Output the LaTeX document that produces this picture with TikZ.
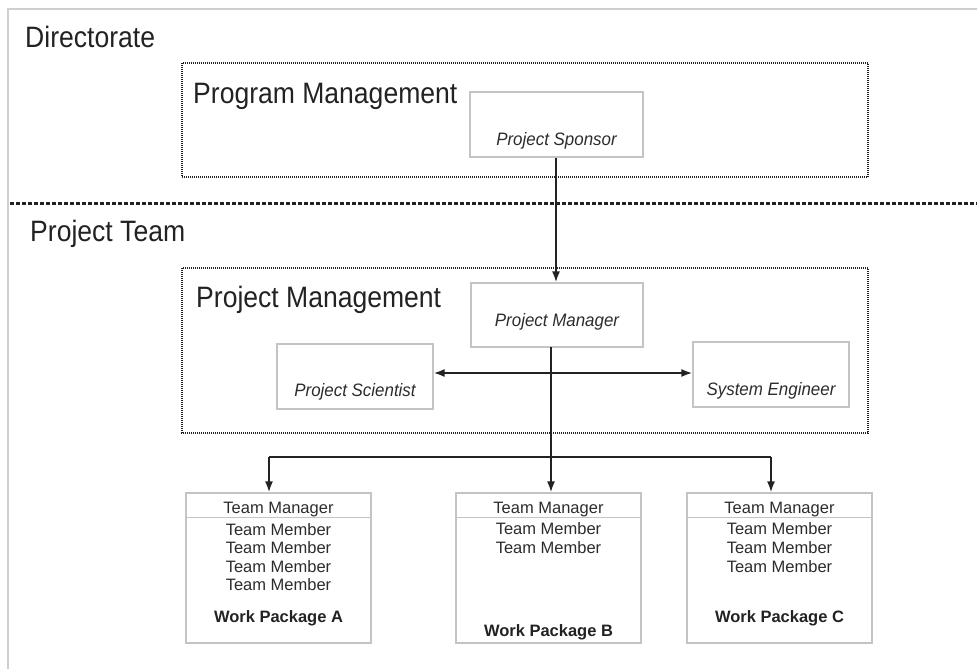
\documentclass[tikz,border=0pt]{standalone}
\usepackage{fontspec}
\setmainfont{Liberation Sans}
\newfontfamily\titlefont[FakeStretch=0.9]{Liberation Sans}
\newfontfamily\labelfont[FakeStretch=0.94]{Liberation Sans}
\usetikzlibrary{arrows.meta}
\definecolor{ink}{HTML}{222222}
\definecolor{txt}{HTML}{2C2C2C}
\definecolor{boxline}{HTML}{C4C4C4}
\definecolor{framegray}{HTML}{CFCFCF}
\tikzset{
  title/.style={anchor=base west, text=ink, inner sep=0pt, font=\titlefont\fontsize{29.5}{32}\selectfont},
  rolebox/.style={draw=boxline, line width=1.2pt, inner sep=0pt},
  rolelbl/.style={text=txt, inner sep=0pt, font=\labelfont\fontsize{18}{20}\selectfont\itshape},
  groupbox/.style={draw=ink, line width=1.1pt, dash pattern=on 1pt off 1pt},
  member/.style={anchor=base, text=txt, inner sep=0pt, font=\fontsize{16.5}{18}\selectfont},
  package/.style={anchor=base, text=ink, inner sep=0pt, font=\fontsize{16.5}{18}\selectfont\bfseries},
  tip/.style={},
  link/.style={draw=ink, line width=1.8pt, -{Latex[length=11pt,width=8pt]}},
  wire/.style={draw=ink, line width=1.8pt},
}
\begin{document}
\begin{tikzpicture}[x=1pt, y=-1pt]
\useasboundingbox (0,0) rectangle (977,669);

% outer frame (top and left edges)
\draw[framegray, line width=1.5pt] (8,669) -- (8,9) -- (977,9);

% section titles
\node[title] (dir) at (25,48) {Directorate};
\node[title] (team) at (30,241) {Project Team};

% division between directorate and project team
\draw[ink, line width=3pt, dash pattern=on 4pt off 2pt] (10,203) -- (977,203);

% program management group
\draw[groupbox] (182,63) rectangle (868,177);
\node[title] (pgm) at (193,103) {Program Management};
\node[rolebox, minimum width=173pt, minimum height=65pt] (sponsor) at (556.5,124.5) {};
\node[rolelbl] at ([yshift=-16.5pt]sponsor.center) {Project Sponsor};

% project management group
\draw[groupbox] (182,268) rectangle (868,433);
\node[title] (pjm) at (196,307) {Project Management};
\node[rolebox, minimum width=172pt, minimum height=64pt] (manager) at (557,315) {};
\node[rolelbl] at ([yshift=-7pt]manager.center) {Project Manager};
\node[rolebox, minimum width=156pt, minimum height=65pt] (scientist) at (355,376.5) {};
\node[rolelbl] at ([yshift=-15.5pt]scientist.center) {Project Scientist};
\node[rolebox, minimum width=156pt, minimum height=65pt] (engineer) at (771,374.5) {};
\node[rolelbl] at ([yshift=-16.5pt]engineer.center) {System Engineer};

% work packages
\node[rolebox, minimum width=185pt, minimum height=150pt] (wpA) at (278.5,568) {};
\node[rolebox, minimum width=185pt, minimum height=150pt] (wpB) at (548.5,568) {};
\node[rolebox, minimum width=185pt, minimum height=150pt] (wpC) at (779.5,568) {};
\foreach \w in {wpA,wpB,wpC}
  \draw[boxline, line width=1.2pt] ([yshift=-25pt]\w.north west) -- ([yshift=-25pt]\w.north east);

\node[member] at (278.5,513) {Team Manager};
\node[member] at (278.5,535) {Team Member};
\node[member] at (278.5,553) {Team Member};
\node[member] at (278.5,572) {Team Member};
\node[member] at (278.5,590) {Team Member};
\node[package] at (278.5,622) {Work Package A};

\node[member] at (548.5,513) {Team Manager};
\node[member] at (548.5,534) {Team Member};
\node[member] at (548.5,553) {Team Member};
\node[package] at (548.5,636) {Work Package B};

\node[member] at (779.5,513) {Team Manager};
\node[member] at (779.5,534) {Team Member};
\node[member] at (779.5,553) {Team Member};
\node[member] at (779.5,572) {Team Member};
\node[package] at (779.5,622) {Work Package C};

% reporting lines
\coordinate (mdown) at (551,347);
\coordinate (jA) at (269,457);
\coordinate (jC) at (771,457);
\draw[link] (sponsor.south -| 556,0) -- (manager.north -| 556,0);
\draw[link, {Latex[length=11pt,width=8pt]}-{Latex[length=11pt,width=8pt]}]
  ([yshift=3.5pt]scientist.east) -- ([yshift=1.5pt]engineer.west);
\draw[link] (mdown) -- (mdown |- wpB.north);
\draw[wire] (jA) -- (jC);
\draw[link] (jA) -- (jA |- wpA.north);
\draw[link] (jC) -- (jC |- wpC.north);
\end{tikzpicture}
\end{document}
